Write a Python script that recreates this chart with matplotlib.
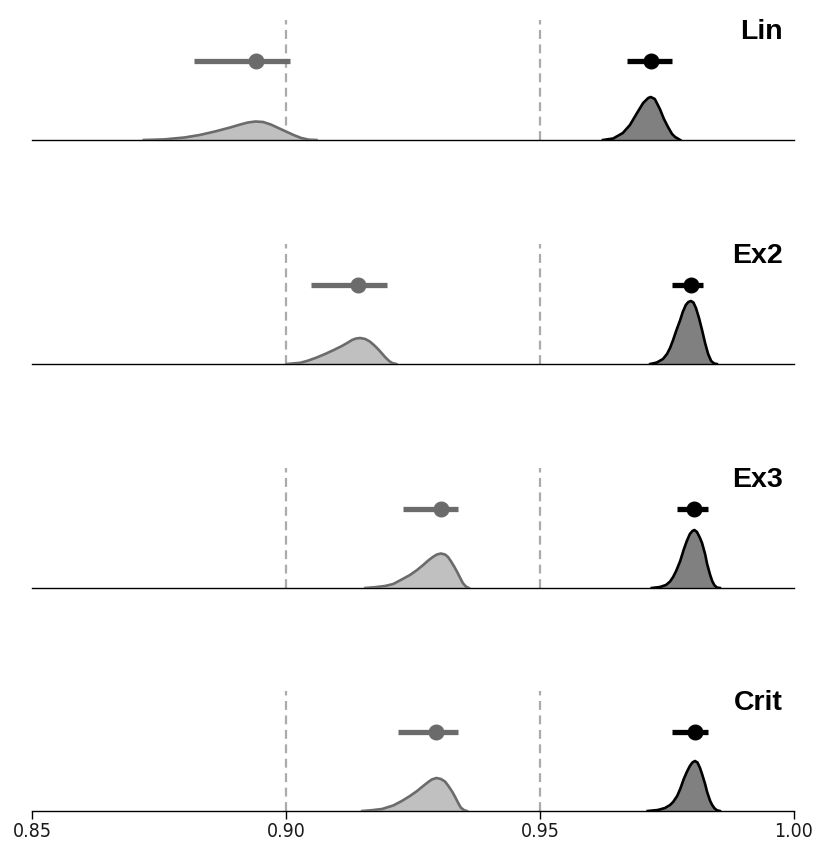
import numpy as np
import matplotlib
matplotlib.use("Agg")
import matplotlib.pyplot as plt

plt.rcParams["font.family"] = ["DejaVu Sans"]

# 各面板名称
panels = ["Lin", "Ex2", "Ex3", "Crit"]

# 浅色分布（读图得到的密度轮廓：x 值与高度）
light_x = [
    [0.8720, 0.8760, 0.8800, 0.8830, 0.8860, 0.8890, 0.8910, 0.8925, 0.8940, 0.8955,
     0.8970, 0.8985, 0.9000, 0.9015, 0.9030, 0.9045, 0.9060],
    [0.9002, 0.9028, 0.9043, 0.9059, 0.9077, 0.9094, 0.9110, 0.9122, 0.9130, 0.9138,
     0.9146, 0.9156, 0.9165, 0.9173, 0.9181, 0.9189, 0.9195, 0.9203, 0.9209, 0.9217],
    [0.9156, 0.9175, 0.9195, 0.9211, 0.9226, 0.9244, 0.9258, 0.9270, 0.9280, 0.9289,
     0.9297, 0.9305, 0.9313, 0.9319, 0.9325, 0.9331, 0.9337, 0.9343, 0.9348, 0.9354, 0.9360],
    [0.9150, 0.9169, 0.9189, 0.9211, 0.9228, 0.9244, 0.9258, 0.9270, 0.9280, 0.9287,
     0.9296, 0.9305, 0.9313, 0.9319, 0.9327, 0.9333, 0.9339, 0.9344, 0.9350, 0.9356],
]
light_h = [
    [0, 0.6, 2.5, 5, 8.5, 12.5, 15.5, 17.5, 18.5, 18, 15.5, 12, 8.5, 5, 2, 0.3, 0],
    [0, 1.2, 3.3, 6.2, 10, 14, 18, 21.5, 24, 25.5, 26, 25, 22.5, 19, 15, 10.5, 7, 3, 1, 0],
    [0, 0.8, 2, 4, 8, 13, 18, 23, 27.5, 31, 33.5, 34.5, 33.5, 31, 26.5, 21.5, 16, 10, 5, 1.5, 0],
    [0, 0.8, 2, 5.5, 10, 15, 20, 25, 29, 31.5, 33, 32, 29.5, 25.5, 19.5, 14, 8, 3.5, 1, 0],
]

# 深色分布
dark_x = [
    [0.9624, 0.9644, 0.9663, 0.9677, 0.9691, 0.9703, 0.9713, 0.9718, 0.9726, 0.9736,
     0.9744, 0.9752, 0.9760, 0.9766, 0.9776],
    [0.9717, 0.9730, 0.9742, 0.9750, 0.9756, 0.9762, 0.9768, 0.9776, 0.9781, 0.9787,
     0.9792, 0.9797, 0.9802, 0.9807, 0.9813, 0.9819, 0.9825, 0.9831, 0.9837, 0.9843, 0.9848],
    [0.9720, 0.9736, 0.9748, 0.9756, 0.9762, 0.9768, 0.9776, 0.9783, 0.9789, 0.9795,
     0.9800, 0.9804, 0.9809, 0.9815, 0.9819, 0.9825, 0.9829, 0.9835, 0.9839, 0.9843, 0.9848, 0.9854],
    [0.9712, 0.9732, 0.9746, 0.9756, 0.9762, 0.9770, 0.9776, 0.9783, 0.9789, 0.9795,
     0.9800, 0.9805, 0.9810, 0.9815, 0.9819, 0.9825, 0.9829, 0.9835, 0.9839, 0.9843, 0.9848, 0.9854],
]
dark_h = [
    [0, 1.5, 7, 15, 27, 37, 42, 43, 41, 31, 21, 13, 6, 3, 0],
    [0, 1.5, 5, 10, 16, 24, 33, 44, 52, 59, 62, 63, 61.5, 56, 46, 34, 21, 10, 3, 0.5, 0],
    [0, 1, 3, 6.5, 11, 17, 27, 38.5, 47, 54, 57, 58, 56, 50, 45, 34, 24, 13, 7, 3, 0.5, 0],
    [0, 1, 3, 6, 9, 15, 22, 32, 39, 45, 48.5, 50, 48.5, 43, 37, 27, 19, 10, 6, 3, 0.8, 0],
]

# 点估计与区间
light_pt = [0.8940, 0.9142, 0.9305, 0.9295]
light_lo = [0.8819, 0.9049, 0.9230, 0.9220]
light_hi = [0.9008, 0.9199, 0.9339, 0.9339]
dark_pt = [0.9718, 0.9797, 0.9804, 0.9805]
dark_lo = [0.9671, 0.9760, 0.9770, 0.9760]
dark_hi = [0.9760, 0.9821, 0.9831, 0.9831]

ref_lines = [0.90, 0.95]
xticks = [0.85, 0.90, 0.95, 1.00]

W, H = 814, 841
fig = plt.figure(figsize=(W / 100, H / 100), dpi=100)

baselines = [140, 364, 588, 811]   # 像素位置（从上往下）
ph = 120  # 每个面板高度（像素）
left, right = 32, 794

light_fill, light_line = "#c0c0c0", "#6b6b6b"
dark_fill, dark_line = "#808080", "#000000"

for i, name in enumerate(panels):
    yb = baselines[i]
    ax = fig.add_axes([left / W, (H - yb) / H, (right - left) / W, ph / H])
    ax.set_xlim(0.85, 1.00)
    ax.set_ylim(0, ph)

    for v in ref_lines:
        ax.axvline(v, color="#ababab", lw=1.6, ls=(0, (4, 2.5)), zorder=1)

    ax.fill_between(light_x[i], 0, light_h[i], color=light_fill, lw=0, zorder=2)
    ax.plot(light_x[i], light_h[i], color=light_line, lw=1.9, zorder=3)
    ax.fill_between(dark_x[i], 0, dark_h[i], color=dark_fill, lw=0, zorder=2)
    ax.plot(dark_x[i], dark_h[i], color=dark_line, lw=1.9, zorder=3)

    # 点 + 区间
    ax.plot([light_lo[i], light_hi[i]], [79, 79], color=light_line, lw=3.8,
            solid_capstyle="butt", zorder=4)
    ax.plot(light_pt[i], 79, "o", color=light_line, ms=10.5, zorder=5)
    ax.plot([dark_lo[i], dark_hi[i]], [79, 79], color=dark_line, lw=3.8,
            solid_capstyle="butt", zorder=4)
    ax.plot(dark_pt[i], 79, "o", color=dark_line, ms=10.5, zorder=5)

    ax.text((783 - left) / (right - left), 101 / ph, name, transform=ax.transAxes,
            ha="right", va="baseline", fontsize=20.5, fontweight="bold",
            family=["Liberation Sans", "DejaVu Sans"])

    for s in ["top", "right", "left"]:
        ax.spines[s].set_visible(False)
    ax.spines["bottom"].set_linewidth(1.0)
    ax.set_yticks([])
    if i == len(panels) - 1:
        ax.set_xticks(xticks)
        ax.set_xticklabels([f"{t:.2f}" for t in xticks], fontstretch="condensed",
                           fontsize=14, color="#1a1a1a")
        ax.tick_params(axis="x", length=6, width=1.0, pad=2)
    else:
        ax.set_xticks([])

fig.savefig("out.png", dpi=100)
